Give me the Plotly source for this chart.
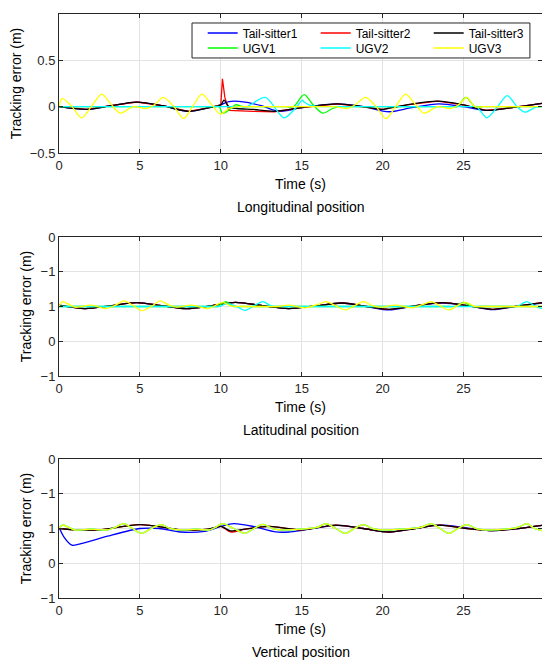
import plotly.graph_objects as go

# ---------------- Longitudinal position ----------------
lon_t_ts1 = [0, 1.7, 3.2, 4.8, 6.4, 8.0, 9.3, 10.0, 10.5, 11.5, 12.5, 13.6, 15.0, 17.2, 18.8, 20.4, 21.8, 23.5, 25.0, 26.4, 28.0, 29.85]
lon_ts1 = [0, -0.03, 0.01, 0.05, 0.01, -0.05, -0.01, 0.02, 0.055, 0.05, 0.01, -0.05, -0.01, 0.03, 0.0, -0.055, -0.01, 0.03, 0.0, -0.04, -0.01, 0.035]

lon_t_ts2 = [0, 1.7, 3.2, 4.8, 6.4, 8.0, 9.3, 10.0, 10.1, 10.25, 10.5, 11.0, 12.0, 13.3, 15.0, 17.2, 18.8, 20.0, 21.5, 23.4, 25.0, 26.4, 28.0, 29.85]
lon_ts2 = [0, -0.03, 0.01, 0.05, 0.01, -0.05, -0.01, 0.02, 0.3, 0.1, -0.04, -0.045, -0.05, -0.055, -0.01, 0.03, 0.0, -0.03, 0.02, 0.06, 0.02, -0.04, -0.01, 0.035]

lon_t_ts3 = [0, 1.7, 3.2, 4.8, 6.4, 8.0, 9.3, 10.0, 10.2, 10.5, 11.0, 12.0, 13.3, 15.0, 17.2, 18.8, 20.0, 20.3, 21.5, 23.4, 25.0, 26.4, 28.0, 29.85]
lon_ts3 = [0, -0.03, 0.01, 0.05, 0.01, -0.05, -0.01, 0.02, 0.07, 0.0, -0.02, -0.03, -0.05, -0.01, 0.03, 0.0, -0.03, -0.02, 0.02, 0.06, 0.02, -0.04, -0.01, 0.035]

lon_t_ugv1 = [0, 5.0, 9.6, 9.9, 10.1, 10.4, 10.9, 11.4, 12.0, 14.0, 14.5, 15.15, 15.7, 16.3, 16.9, 17.4, 17.8, 21.0, 24.3, 24.6, 25.15, 25.7, 26.2, 26.6, 29.85]
lon_ugv1 = [0, 0, 0, 0, -0.07, -0.05, 0.02, 0.0, 0, 0, 0, 0.13, 0.02, -0.07, -0.02, 0, 0, 0, 0, 0, 0.1, 0.0, 0, 0, 0]

lon_t_ugv2 = [0, 6.0, 11.2, 11.6, 12.75, 13.9, 14.6, 15.05, 15.15, 15.6, 16.2, 16.6, 21.0, 25.4, 25.8, 26.45, 27.1, 27.7, 28.3, 28.8, 29.4, 29.85]
lon_ugv2 = [0, 0, 0, 0, 0.1, -0.12, -0.02, 0.07, 0.05, 0.01, 0, 0, 0, 0, 0, -0.12, 0.0, 0.12, 0.0, -0.06, -0.01, 0.0]

lon_t_ugv3 = [0, 0.2, 0.8, 1.4, 2.0, 2.64, 3.2, 3.78, 4.6, 5.4, 5.9, 6.45, 7.1, 7.7, 8.25, 8.83, 9.4, 9.97, 10.5, 11.0, 11.4,
              14.0, 16.6, 17.0, 17.8, 18.3, 18.95, 19.6, 20.2, 20.8, 21.42, 22.0, 22.55, 23.4, 24.2, 24.7, 25.2, 25.7, 26.2,
              26.6, 29.85]
lon_ugv3 = [0, 0.09, 0.0, -0.12, 0.0, 0.135, 0.03, -0.07, 0.0, -0.02, 0.02, 0.1, 0.0, -0.13, 0.0, 0.135, 0.03, -0.08, -0.02, 0, 0,
            0, 0, 0, -0.02, 0.02, 0.1, 0.0, -0.13, 0.0, 0.135, 0.03, -0.07, 0.0, -0.02, 0.02, 0.1, 0.0, 0,
            0, 0]

# ---------------- Latitudinal position ----------------
lat_t_ts = [0, 1.6, 3.2, 4.8, 6.4, 7.9, 9.4, 10.9, 12.6, 14.2, 15.9, 17.5, 19.0, 20.4, 22.0, 23.7, 25.3, 26.8, 28.4, 29.85]
lat_ts1 = [0.02, -0.03, 0.01, 0.055, 0.01, -0.03, 0.01, 0.06, 0.01, -0.03, 0.01, 0.05, 0.0, -0.05, 0.01, 0.05, 0.01, -0.045, 0.01, 0.05]
lat_ts2 = [0.02, -0.03, 0.01, 0.055, 0.01, -0.03, 0.01, 0.06, 0.01, -0.03, 0.01, 0.05, 0.0, -0.04, 0.01, 0.055, 0.01, -0.04, 0.01, 0.055]
lat_ts3 = [0.02, -0.03, 0.01, 0.055, 0.01, -0.03, 0.01, 0.06, 0.01, -0.03, 0.01, 0.05, 0.0, -0.04, 0.01, 0.055, 0.01, -0.04, 0.01, 0.055]

lat_t_ugv1 = [0, 5.0, 9.5, 9.8, 10.3, 10.8, 11.2, 11.6, 18.0, 24.1, 24.5, 25.0, 25.5, 25.9, 29.85]
lat_ugv1 = [0, 0, 0, 0, 0.07, 0.0, 0, 0, 0, 0, 0, 0.06, 0.0, 0, 0]

lat_t_ugv2 = [0, 5.0, 9.5, 9.9, 10.35, 10.9, 11.5, 12.05, 12.6, 13.1, 13.6, 14.0, 21.0, 27.9, 28.3, 28.9, 29.4, 29.85]
lat_ugv2 = [0, 0, 0, 0, 0.04, 0.01, -0.055, 0.01, 0.07, 0.01, 0, 0, 0, 0, 0, 0.07, 0.01, -0.03]

lat_t_ugv3 = [0, 0.2, 1.0, 2.0, 2.9, 3.5, 4.0, 4.55, 5.1, 5.7, 6.25, 6.8, 7.3, 8.2, 9.2, 9.7, 10.1, 10.6, 11.5, 12.5, 13.5, 14.2, 15.2,
              16.0, 16.5, 17.1, 17.7, 18.25, 18.8, 19.4, 19.9, 20.8, 21.8, 22.5, 23.0, 23.55, 24.1, 24.6, 25.1, 25.7, 26.1, 28.0, 29.85]
lat_ugv3 = [0.0, 0.07, -0.01, 0.02, -0.03, 0.02, 0.08, 0.02, -0.06, 0.0, 0.08, 0.02, -0.01, 0.02, -0.03, 0.02, 0.06, 0.01, 0.0, 0.0, 0.0, 0.02, -0.02,
            0.03, 0.07, 0.01, -0.05, 0.01, 0.07, 0.01, -0.01, 0.02, -0.02, 0.03, 0.07, 0.01, -0.05, 0.01, 0.06, 0.0, 0.0, 0.0, 0.0]

# ---------------- Vertical position ----------------
ver_t_ts1 = [0, 0.3, 0.8, 1.5, 3.0, 5.0, 6.2, 7.5, 9.0, 10.0, 10.8, 12.0, 13.4, 14.2, 15.2, 17.2, 18.8, 20.4, 22.0, 23.5, 25.2, 26.8, 28.4, 29.85]
ver_ts1 = [0.02, -0.12, -0.24, -0.21, -0.11, 0.0, 0.0, -0.05, -0.04, 0.03, 0.07, 0.03, -0.05, -0.05, -0.02, 0.045, 0.0, -0.05, 0.0, 0.05, 0.01, -0.03, 0.0, 0.045]

ver_t_ts = [0, 1.1, 2.5, 5.0, 7.7, 9.2, 10.0, 10.3, 10.6, 11.5, 13.0, 15.0, 17.1, 18.8, 20.4, 22.0, 23.5, 25.2, 26.8, 28.4, 29.85]
ver_ts2 = [0.0, -0.02, -0.02, 0.057, -0.02, -0.01, 0.03, -0.01, -0.05, -0.01, 0.03, -0.02, 0.05, 0.0, -0.05, 0.0, 0.05, 0.0, -0.03, 0.0, 0.045]
ver_ts3 = [0.0, -0.02, -0.02, 0.057, -0.02, -0.01, 0.03, 0.0, -0.035, -0.01, 0.03, -0.02, 0.05, 0.0, -0.05, 0.0, 0.05, 0.0, -0.03, 0.0, 0.045]

ver_t_ugv = [0, 0.2, 1.0, 2.0, 3.0, 3.5, 4.0, 4.55, 5.1, 5.7, 6.3, 6.9, 7.6, 8.5, 9.3, 9.7, 10.1, 10.8, 11.5, 12.05, 12.6, 13.2, 14.0,
             15.0, 16.0, 16.5, 17.1, 17.7, 18.25, 18.8, 19.4, 20.2, 21.2, 22.4, 23.0, 23.55, 24.1, 24.65, 25.2, 25.8, 26.6, 27.6,
             28.4, 28.9, 29.4, 29.85]
ver_ugv3 = [0.0, 0.05, -0.02, -0.01, -0.02, 0.02, 0.07, 0.0, -0.07, 0.0, 0.055, 0.0, -0.02, -0.01, -0.02, 0.02, 0.07, 0.0, -0.07, 0.0, 0.06, 0.0, -0.02,
            -0.01, 0.02, 0.07, 0.0, -0.07, 0.0, 0.055, 0.0, -0.02, -0.01, 0.02, 0.07, 0.0, -0.07, 0.0, 0.055, 0.0, -0.02, -0.01,
            0.02, 0.07, 0.0, -0.03]
ver_ugv1 = list(ver_ugv3)   # hidden under UGV3
ver_ugv2 = list(ver_ugv3)

names = ["Tail-sitter1", "Tail-sitter2", "Tail-sitter3", "UGV1", "UGV2", "UGV3"]
colors = ["#0000FF", "#FF0000", "#000000", "#00FF00", "#00FFFF", "#FFFF00"]

panels = [
    [(lon_t_ts1, lon_ts1), (lon_t_ts2, lon_ts2), (lon_t_ts3, lon_ts3),
     (lon_t_ugv1, lon_ugv1), (lon_t_ugv2, lon_ugv2), (lon_t_ugv3, lon_ugv3)],
    [(lat_t_ts, lat_ts1), (lat_t_ts, lat_ts2), (lat_t_ts, lat_ts3),
     (lat_t_ugv1, lat_ugv1), (lat_t_ugv2, lat_ugv2), (lat_t_ugv3, lat_ugv3)],
    [(ver_t_ts1, ver_ts1), (ver_t_ts, ver_ts2), (ver_t_ts, ver_ts3),
     (ver_t_ugv, ver_ugv1), (ver_t_ugv, ver_ugv2), (ver_t_ugv, ver_ugv3)],
]
subtitles = ["Longitudinal position", "Latitudinal position", "Vertical position"]

FONT = "Liberation Sans, Arial, Helvetica, sans-serif"
AX = "#262626"

fig = go.Figure()
for p, series in enumerate(panels):
    ax = "" if p == 0 else str(p + 1)
    for i, (t, v) in enumerate(series):
        fig.add_trace(go.Scatter(
            x=t, y=v, mode="lines", name=names[i],
            line=dict(color=colors[i], width=1.3,
                      shape="linear" if (p == 0 and i == 1) else "spline", smoothing=0.8),
            xaxis="x" + ax, yaxis="y" + ax,
            showlegend=(p == 0),
            legend="legend" if i < 3 else "legend2",
        ))

domains = [[0.762, 1.0], [0.3801, 0.6182], [0.0, 0.238]]
ylay = [
    dict(range=[-0.5, 1], tickvals=[-0.5, 0, 0.5, 1]),
    dict(range=[-1, 1], tickvals=[-1, -0.5, 0, 0.5, 1], ticktext=["\u22121", "0", "1", "\u22121", "0"]),
    dict(range=[-1, 1], tickvals=[-1, -0.5, 0, 0.5, 1], ticktext=["\u22121", "0", "1", "\u22121", "0"]),
]
ystandoff = [11, 5, 5]
common = dict(showline=True, linecolor=AX, linewidth=1, mirror="ticks", ticks="inside",
              ticklen=4, tickcolor=AX, showgrid=True, gridcolor="#e3e3e3", zeroline=False,
              automargin=False, tickfont=dict(size=13, color=AX, family=FONT))

# the page body adds an 8px offset, so the figure is 8px smaller and margins shifted
layout = dict(
    width=542, height=657,
    margin=dict(l=51, r=8, t=6, b=67),
    paper_bgcolor="white", plot_bgcolor="white",
    font=dict(family=FONT, color=AX),
    showlegend=True,
    legend=dict(orientation="h", x=0.2975, y=0.9675, xanchor="left", yanchor="middle",
                entrywidth=68, entrywidthmode="pixels", bgcolor="rgba(0,0,0,0)",
                font=dict(size=12, color="#000000", family=FONT), tracegroupgap=0),
    legend2=dict(orientation="h", x=0.2975, y=0.9418, xanchor="left", yanchor="middle",
                 entrywidth=68, entrywidthmode="pixels", bgcolor="rgba(0,0,0,0)",
                 font=dict(size=12, color="#000000", family=FONT), tracegroupgap=0),
    shapes=[dict(type="rect", xref="paper", yref="paper", x0=0.2754, x1=0.975, y0=0.9247, y1=0.9846,
                 fillcolor="white", line=dict(color=AX, width=1), layer="above")],
    annotations=[],
)
for p in range(3):
    ax = "" if p == 0 else str(p + 1)
    layout["xaxis" + ax] = dict(common, domain=[0, 1], range=[0, 29.85], tickvals=[0, 5, 10, 15, 20, 25],
                                anchor="y" + ax,
                                title=dict(text="Time (s)", font=dict(size=14, color="#000000"), standoff=7))
    layout["yaxis" + ax] = dict(common, domain=domains[p], anchor="x" + ax, **ylay[p],
                                title=dict(text="Tracking error (m)", font=dict(size=14, color="#000000"),
                                           standoff=ystandoff[p]))
    ybot = domains[p][0]
    layout["annotations"].append(dict(text=subtitles[p], xref="paper", yref="paper", x=0.5, y=ybot - 0.093,
                                      xanchor="center", yanchor="middle", showarrow=False,
                                      font=dict(size=14, color="#000000")))

fig.update_layout(**layout)
fig.write_html("out.html")
